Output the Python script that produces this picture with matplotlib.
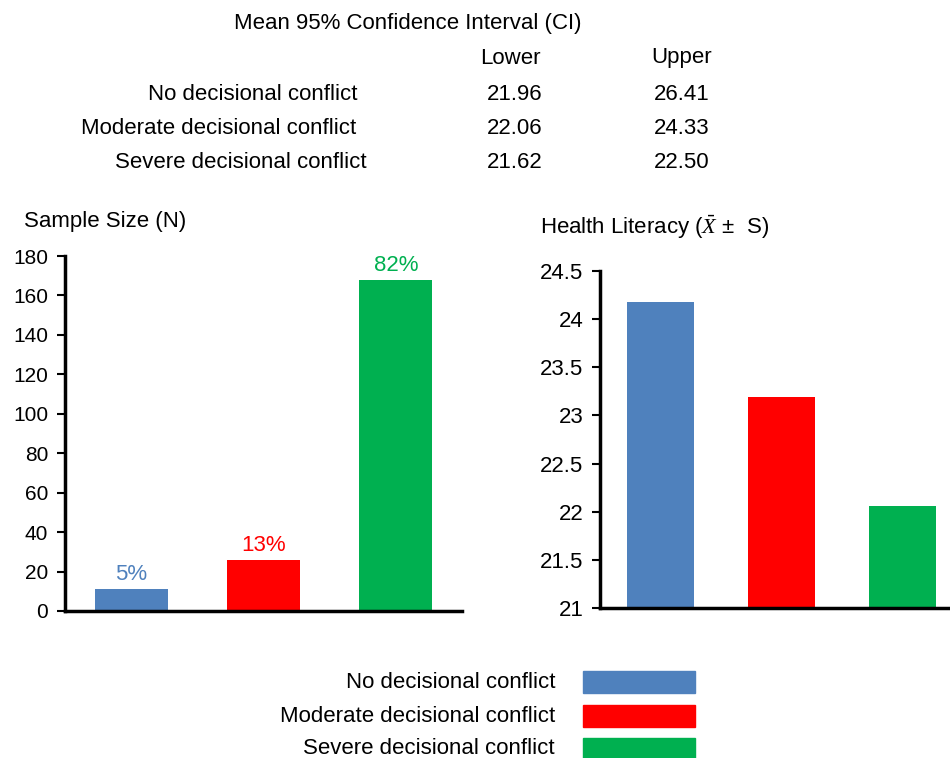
import matplotlib
matplotlib.use("Agg")
import matplotlib.pyplot as plt
from matplotlib.patches import Rectangle

plt.rcParams['font.family'] = ['Liberation Sans', 'DejaVu Sans']
plt.rcParams['mathtext.fontset'] = 'custom'
plt.rcParams['mathtext.rm'] = 'Liberation Sans'
plt.rcParams['mathtext.it'] = 'Liberation Serif:italic'

groups = ["No decisional conflict", "Moderate decisional conflict", "Severe decisional conflict"]
colors = ["#4F81BD", "#FF0000", "#00B050"]
sample_n = [11, 26, 168]
sample_pct = ["5%", "13%", "82%"]
ci_lower = [21.96, 22.06, 21.62]
ci_upper = [26.41, 24.33, 22.50]
hl_mean = [24.18, 23.19, 22.06]

W, H = 950, 758
fig = plt.figure(figsize=(W / 100, H / 100), dpi=100)


def fx(px):
    return px / W


def fy(py):
    return 1 - py / H


# table on top
fig.text(fx(408), fy(24), "Mean 95% Confidence Interval (CI)", fontsize=16, ha='center', va='center')
fig.text(fx(510), fy(58), "Lower", fontsize=16, ha='center', va='center')
fig.text(fx(682), fy(58), "Upper", fontsize=16, ha='center', va='center')
row_x = [148, 81, 115]
row_y = [94, 128, 162]
for i, g in enumerate(groups):
    fig.text(fx(row_x[i]), fy(row_y[i]), g, fontsize=16, ha='left', va='center')
    fig.text(fx(515), fy(row_y[i]), f"{ci_lower[i]:.2f}", fontsize=16, ha='center', va='center')
    fig.text(fx(682), fy(row_y[i]), f"{ci_upper[i]:.2f}", fontsize=16, ha='center', va='center')


def style_axes(ax, size, pad):
    for s in ['top', 'right']:
        ax.spines[s].set_visible(False)
    ax.spines['left'].set_linewidth(2.5)
    ax.spines['bottom'].set_linewidth(2.5)
    ax.tick_params(axis='x', length=0, labelbottom=False)
    ax.tick_params(axis='y', length=6, width=1.5, labelsize=size, pad=pad)


x = range(len(groups))

# left: sample size
ax1 = fig.add_axes([fx(65), fy(611), fx(462 - 65), (611 - 256) / H])
ax1.bar(x, sample_n, width=0.55, color=colors)
ax1.set_ylim(0, 180)
ax1.set_xlim(-0.5, 2.5)
ax1.set_yticks(range(0, 181, 20))
style_axes(ax1, 15, 6)
for i in x:
    ax1.text(i, sample_n[i] + 2, sample_pct[i], color=colors[i], fontsize=16, ha='center', va='bottom')
fig.text(fx(24), fy(222), "Sample Size (N)", fontsize=16, ha='left', va='center')

# right: health literacy
ax2 = fig.add_axes([fx(600), fy(608), fx(950 - 600), (608 - 271) / H])
ax2.bar(x, hl_mean, width=0.55, color=colors)
ax2.set_ylim(21, 24.5)
ax2.set_xlim(-0.5, 2.39)
ax2.set_yticks([21, 21.5, 22, 22.5, 23, 23.5, 24, 24.5])
ax2.set_yticklabels(["21", "21.5", "22", "22.5", "23", "23.5", "24", "24.5"])
style_axes(ax2, 16, 6)
fig.text(fx(540), fy(227), r"Health Literacy ($\bar{X}$ $\pm$  S)", fontsize=16, ha='left', va='center')

# legend at bottom
leg_y = [682, 716, 749]
for i, g in enumerate(groups):
    fig.text(fx(555), fy(leg_y[i]), g, fontsize=16, ha='right', va='center')
    fig.patches.append(Rectangle((fx(583), fy(leg_y[i] + 11)), fx(112), 22 / H,
                                 transform=fig.transFigure, color=colors[i]))

fig.savefig("out.png", dpi=100)
